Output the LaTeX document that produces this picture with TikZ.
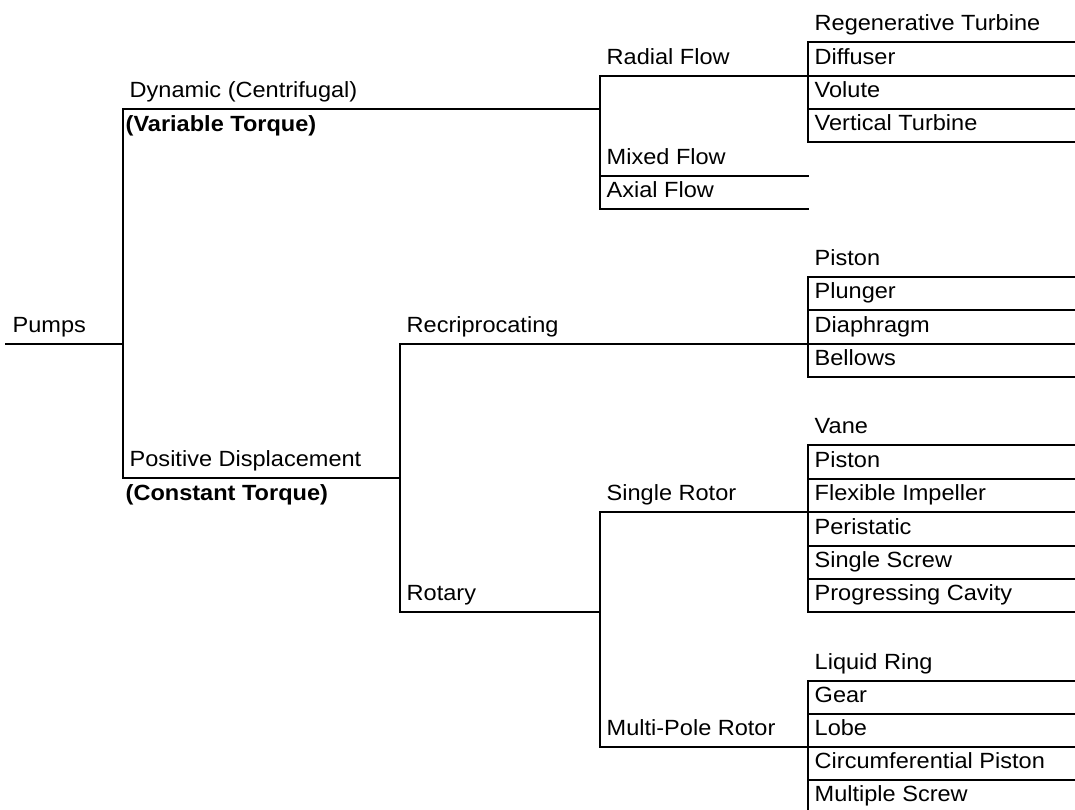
\documentclass[tikz,border=0pt]{standalone}
\usepackage{fontspec}
\setmainfont{Liberation Sans}[FakeStretch=1.07]

\begin{document}
\begin{tikzpicture}[x=1bp, y=-1bp, line width=1.4bp,
  lbl/.style={anchor=base west, inner sep=0pt, font=\fontsize{22bp}{26bp}\selectfont},
  note/.style={lbl, font=\fontsize{22bp}{26bp}\selectfont\bfseries},
  link/.style={draw=black, line cap=rect}]
\useasboundingbox (0,0) rectangle (1075,810);
\clip (0,0) rectangle (1075,810);

% ---- branch ends (left and right of each underline) ----
\coordinate (pumps-a)  at (6,344);   \coordinate (pumps-b)  at (123,344);
\coordinate (dyn-a)    at (123,109); \coordinate (dyn-b)    at (600,109);
\coordinate (pd-a)     at (123,478); \coordinate (pd-b)     at (400,478);
\coordinate (radial-a) at (600,76);  \coordinate (radial-b) at (808,76);
\coordinate (mixed-a)  at (600,176); \coordinate (mixed-b)  at (808,176);
\coordinate (axial-a)  at (600,209); \coordinate (axial-b)  at (808,209);
\coordinate (recip-a)  at (400,344); \coordinate (recip-b)  at (808,344);
\coordinate (rotary-a) at (400,612); \coordinate (rotary-b) at (600,612);
\coordinate (single-a) at (600,512); \coordinate (single-b) at (808,512);
\coordinate (multi-a)  at (600,747); \coordinate (multi-b)  at (808,747);

% ---- branch labels ----
\node[lbl]  (pumps)  at (12,332.5)  {Pumps};
\node[lbl]  (dyn)    at (129,97.5)  {Dynamic (Centrifugal)};
\node[note] (dynt)   at (125,131)   {(Variable Torque)};
\node[lbl]  (pd)     at (129,466.5) {Positive Displacement};
\node[note] (pdt)    at (125,500)   {(Constant Torque)};
\node[lbl]  (radial) at (606,64.5)  {Radial Flow};
\node[lbl]  (mixed)  at (606,164.5) {Mixed Flow};
\node[lbl]  (axial)  at (606,197.5) {Axial Flow};
\node[lbl]  (recip)  at (406,332.5) {Recriprocating};
\node[lbl]  (rotary) at (406,600.5) {Rotary};
\node[lbl]  (single) at (606,500.5) {Single Rotor};
\node[lbl]  (multi)  at (606,735.5) {Multi-Pole Rotor};

% ---- leaf types, each underlined from x=808 to the right edge ----
\foreach \y/\t/\n in {
  42/Regenerative Turbine/regen, 76/Diffuser/diff, 109/Volute/volute, 142/Vertical Turbine/vturb,
  277/Piston/pistA, 310/Plunger/plunger, 344/Diaphragm/diaph, 377/Bellows/bellows,
  445/Vane/vane, 479/Piston/pistB, 512/Flexible Impeller/flex, 546/Peristatic/peri,
  579/Single Screw/sscrew, 612/Progressing Cavity/prog,
  681/Liquid Ring/liquid, 714/Gear/gear, 747/Lobe/lobe, 780/Circumferential Piston/circ,
  813/Multiple Screw/mscrew}{
  \coordinate (\n-a) at (808,\y);
  \coordinate (\n-b) at (1075,\y);
  \node[lbl] (\n) at (814,\y-11.5) {\t};
  \draw[link] (\n-a) -- (\n-b);
}

% ---- underlines of the branches ----
\foreach \n in {pumps,dyn,pd,radial,mixed,axial,recip,rotary,single,multi}
  \draw[link] (\n-a) -- (\n-b);

% ---- vertical joins ----
\draw[link] (dyn-a) -- (pd-a);
\draw[link] (radial-a) -- (axial-a);
\draw[link] (recip-a) -- (rotary-a);
\draw[link] (single-a) -- (multi-a);
\draw[link] (regen-a) -- (vturb-a);
\draw[link] (pistA-a) -- (bellows-a);
\draw[link] (vane-a) -- (prog-a);
\draw[link] (liquid-a) -- (mscrew-a);
\end{tikzpicture}
\end{document}
